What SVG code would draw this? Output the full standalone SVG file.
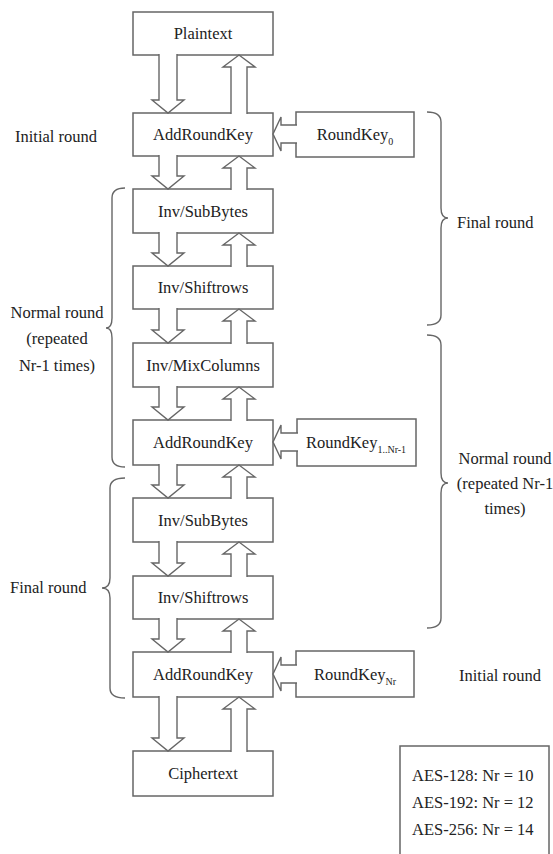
<svg xmlns="http://www.w3.org/2000/svg" width="553" height="854" viewBox="0 0 553 854">
<style>
.box{fill:#fff;stroke:#666;stroke-width:1.5}
.arr{fill:#fff;stroke:#666;stroke-width:1.4;stroke-linejoin:miter}
.brace{fill:none;stroke:#666;stroke-width:1.4}
text{font-family:"Liberation Serif","Times New Roman",serif;font-size:16.5px;fill:#222}
.c{text-anchor:middle}
.sub{font-size:10px}
</style>
<rect width="553" height="854" fill="#fff"/>
<g id="nodes">
<g id="plaintext"><rect class="box" x="133" y="12" width="140" height="43"/><text class="c" x="203" y="39">Plaintext</text></g>
<g id="ark0"><rect class="box" x="133" y="113" width="140" height="43"/><text class="c" x="203" y="140">AddRoundKey</text></g>
<g id="subbytes1"><rect class="box" x="133" y="189" width="140" height="44"/><text class="c" x="203" y="217">Inv/SubBytes</text></g>
<g id="shiftrows1"><rect class="box" x="133" y="266" width="140" height="43"/><text class="c" x="203" y="293">Inv/Shiftrows</text></g>
<g id="mixcolumns"><rect class="box" x="133" y="343" width="140" height="44"/><text class="c" x="203" y="371">Inv/MixColumns</text></g>
<g id="ark1"><rect class="box" x="133" y="420" width="140" height="45"/><text class="c" x="203" y="448">AddRoundKey</text></g>
<g id="subbytes2"><rect class="box" x="133" y="498" width="140" height="44"/><text class="c" x="203" y="526">Inv/SubBytes</text></g>
<g id="shiftrows2"><rect class="box" x="133" y="576" width="140" height="43"/><text class="c" x="203" y="603">Inv/Shiftrows</text></g>
<g id="ark2"><rect class="box" x="133" y="652" width="140" height="45"/><text class="c" x="203" y="680">AddRoundKey</text></g>
<g id="ciphertext"><rect class="box" x="133" y="751" width="140" height="45"/><text class="c" x="203" y="779">Ciphertext</text></g>
<g id="roundkey0"><rect class="box" x="296" y="112" width="118" height="45"/><text class="c" x="355" y="140">RoundKey<tspan class="sub" dy="5">0</tspan></text></g>
<g id="roundkey1"><rect class="box" x="297" y="419" width="119" height="47"/><text class="c" x="356" y="448">RoundKey<tspan class="sub" dy="5">1..Nr-1</tspan></text></g>
<g id="roundkeynr"><rect class="box" x="296" y="651" width="118" height="46"/><text class="c" x="355" y="680">RoundKey<tspan class="sub" dy="5">Nr</tspan></text></g>
<g id="aesbox"><rect class="box" x="400" y="746" width="149" height="120"/>
<text x="412" y="781">AES-128: Nr = 10</text>
<text x="412" y="808">AES-192: Nr = 12</text>
<text x="412" y="835">AES-256: Nr = 14</text></g>
</g>
<g id="connectors">
<path class="arr" d="M159,54 V100 H152 L168,113 L184,100 H177 V54"/>
<path class="arr" d="M231,114 V67 H223 L239,55 L255,67 H247 V114"/>
<path class="arr" d="M159,155 V176 H152 L168,189 L184,176 H177 V155"/>
<path class="arr" d="M231,190 V168 H223 L239,156 L255,168 H247 V190"/>
<path class="arr" d="M159,232 V253 H152 L168,266 L184,253 H177 V232"/>
<path class="arr" d="M231,267 V245 H223 L239,233 L255,245 H247 V267"/>
<path class="arr" d="M159,308 V330 H152 L168,343 L184,330 H177 V308"/>
<path class="arr" d="M231,344 V321 H223 L239,309 L255,321 H247 V344"/>
<path class="arr" d="M159,386 V407 H152 L168,420 L184,407 H177 V386"/>
<path class="arr" d="M231,421 V399 H223 L239,387 L255,399 H247 V421"/>
<path class="arr" d="M159,464 V485 H152 L168,498 L184,485 H177 V464"/>
<path class="arr" d="M231,499 V477 H223 L239,465 L255,477 H247 V499"/>
<path class="arr" d="M159,541 V563 H152 L168,576 L184,563 H177 V541"/>
<path class="arr" d="M231,577 V554 H223 L239,542 L255,554 H247 V577"/>
<path class="arr" d="M159,618 V639 H152 L168,652 L184,639 H177 V618"/>
<path class="arr" d="M231,653 V631 H223 L239,619 L255,631 H247 V653"/>
<path class="arr" d="M159,696 V738 H152 L168,751 L184,738 H177 V696"/>
<path class="arr" d="M231,752 V709 H223 L239,697 L255,709 H247 V752"/>
<path class="arr" d="M297,125 H281 V117 L273,134 L281,151 V143 H297"/>
<path class="arr" d="M298,433 H281 V425 L273,442 L281,459 V451 H298"/>
<path class="arr" d="M297,665 H281 V657 L273,674 L281,691 V683 H297"/>
</g>
<g id="braces">
<path class="brace" d="M125,188 Q112,188 112,198 V318 Q112,328 106,328 Q112,328 112,338 V457 Q112,467 125,467"/>
<path class="brace" d="M125,478 Q110,478 110,488 V578 Q110,588 102,588 Q110,588 110,598 V688 Q110,698 125,698"/>
<path class="brace" d="M427,112 Q441,112 441,122 V208 Q441,218 448,218 Q441,218 441,228 V315 Q441,325 427,325"/>
<path class="brace" d="M427,335 Q441,335 441,345 V473 Q441,483 448,483 Q441,483 441,493 V618 Q441,628 427,628"/>
</g>
<g id="labels">
<text x="15" y="142">Initial round</text>
<text class="c" x="57" y="318">Normal round</text>
<text class="c" x="57" y="344">(repeated</text>
<text class="c" x="57" y="371">Nr-1 times)</text>
<text x="10" y="593">Final round</text>
<text x="457" y="228">Final round</text>
<text class="c" x="505" y="464">Normal round</text>
<text class="c" x="505" y="489">(repeated Nr-1</text>
<text class="c" x="505" y="514">times)</text>
<text x="459" y="681">Initial round</text>
</g>
</svg>
